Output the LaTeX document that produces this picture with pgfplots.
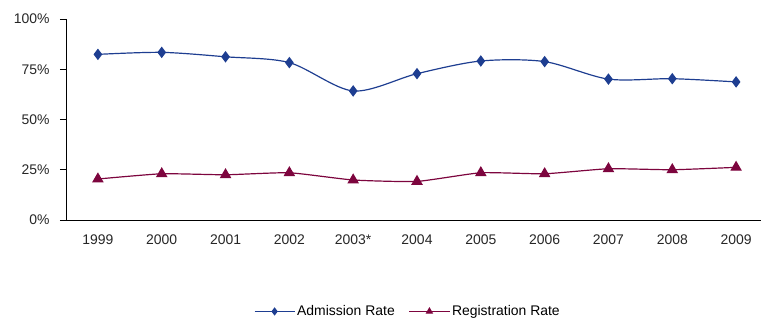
\documentclass[border=0pt]{standalone}
\usepackage{pgfplots}
\pgfplotsset{compat=1.18}
\usepackage{fontspec}
\setmainfont{Liberation Sans}
\definecolor{admblue}{RGB}{30,62,145}
\definecolor{regred}{RGB}{125,5,62}
\begin{document}
\begin{tikzpicture}
\path[use as bounding box] (-66bp,-98bp) rectangle (695bp,220bp);
\begin{axis}[
  at={(0,0)}, anchor=south west,
  scale only axis, width=702bp, height=201bp,
  xmin=-0.5, xmax=10.5, ymin=0, ymax=100,
  axis lines*=left,
  axis line style={black, line width=0.9pt},
  xtick={0,...,10},
  xticklabels={1999,2000,2001,2002,2003*,2004,2005,2006,2007,2008,2009},
  xtick style={draw=none},
  extra x ticks={0.5,1.5,...,9.5},
  extra x tick labels={},
  extra x tick style={tick align=outside, major tick length=4bp, tick style={black, line width=0.9pt}},
  ytick={0,25,50,75,100},
  yticklabels={0\%,25\%,50\%,75\%,100\%},
  ytick style={black, line width=0.9pt},
  tick align=outside, major tick length=6bp,
  ticklabel style={font=\fontsize{14}{16}\selectfont, text=black!85},
  xticklabel style={yshift=-5bp},
  yticklabel style={xshift=-7bp},
  legend style={at={(0.487,-0.455)}, anchor=center, draw=none, fill=none,
    font=\fontsize{14}{16}\selectfont, legend columns=2,
    /tikz/every even column/.append style={column sep=12bp}},
  legend image code/.code={\draw[mark repeat=2,mark phase=2,mark size=3.2bp] plot coordinates {(0bp,0bp)(20bp,0bp)(40bp,0bp)};},
  clip=false,
]
\addplot[admblue, line width=1.2pt, smooth, tension=0.5, mark=diamond*, mark size=4.8bp, mark options={fill=admblue, solid}]
 coordinates {(0,82.4)(1,83.4)(2,81.2)(3,78.3)(4,64.2)(5,72.8)(6,79.1)(7,78.8)(8,70.1)(9,70.3)(10,68.7)};
\addlegendentry{Admission Rate}
\addplot[regred, line width=1.2pt, smooth, tension=0.3, mark=triangle*, mark size=5.5bp, mark options={fill=regred, solid}]
 coordinates {(0,20.4)(1,23.0)(2,22.5)(3,23.5)(4,19.9)(5,19.2)(6,23.5)(7,23.0)(8,25.5)(9,25.0)(10,26.2)};
\addlegendentry{Registration Rate}
\end{axis}
\end{tikzpicture}
\end{document}
